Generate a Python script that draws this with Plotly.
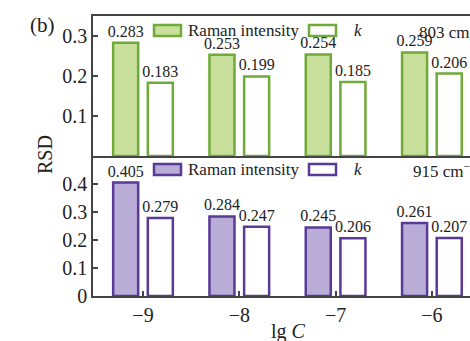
import plotly.graph_objects as go
from plotly.subplots import make_subplots

lg_c = [-9, -8, -7, -6]
raman_803 = [0.283, 0.253, 0.254, 0.259]
k_803 = [0.183, 0.199, 0.185, 0.206]
raman_915 = [0.405, 0.284, 0.245, 0.261]
k_915 = [0.279, 0.247, 0.206, 0.207]

x_ticks = [-9, -8, -7, -6]
x_tick_text = ["\u22129", "\u22128", "\u22127", "\u22126"]
top_ticks = [0.1, 0.2, 0.3]
bot_ticks = [0, 0.1, 0.2, 0.3, 0.4]

GREEN_FILL = "#c9df9c"
GREEN_LINE = "#70aa38"
PURPLE_FILL = "#b9acd6"
PURPLE_LINE = "#5a3a97"
TXT = "#222222"
AX = "#444444"
FONT = "Liberation Serif"

W, H = 470, 341
L, R, T, B = 93, 0, 16, 45

fig = make_subplots(rows=2, cols=1, shared_xaxes=True, vertical_spacing=0)

def fmt(v):
    return f"{v:.3f}"

def add_pair(row, raman, k, fill, line):
    fig.add_trace(go.Bar(x=lg_c, y=raman, offset=-0.31, width=0.26,
                         marker=dict(color=fill, line=dict(color=line, width=2.5)),
                         text=[fmt(v) for v in raman], textposition="outside",
                         constraintext="none",
                         textfont=dict(family=FONT, size=16, color=TXT),
                         cliponaxis=False, showlegend=False), row=row, col=1)
    fig.add_trace(go.Bar(x=lg_c, y=k, offset=0.05, width=0.26,
                         marker=dict(color="white", line=dict(color=line, width=2.5)),
                         text=[fmt(v) for v in k], textposition="outside",
                         constraintext="none",
                         textfont=dict(family=FONT, size=16, color=TXT),
                         cliponaxis=False, showlegend=False), row=row, col=1)

add_pair(1, raman_803, k_803, GREEN_FILL, GREEN_LINE)
add_pair(2, raman_915, k_915, PURPLE_FILL, PURPLE_LINE)

pw = W - L - R
ph = H - T - B

def px(x):
    return (x - L) / pw

def py(y):
    return (H - B - y) / ph

shapes = []
annotations = []

label_x = {"803 cm<sup>\u22121</sup>": 417, "915 cm<sup>\u22121</sup>": 411}

def legend_row(yc, fill, line, label):
    shapes.append(dict(type="rect", xref="paper", yref="paper",
                       x0=px(154), x1=px(181), y0=py(yc + 5.5), y1=py(yc - 5.5),
                       fillcolor=fill, line=dict(color=line, width=2.5)))
    shapes.append(dict(type="rect", xref="paper", yref="paper",
                       x0=px(309), x1=px(336), y0=py(yc + 5.5), y1=py(yc - 5.5),
                       fillcolor="white", line=dict(color=line, width=2.5)))
    annotations.append(dict(text="Raman intensity", xref="paper", yref="paper",
                            x=px(186), y=py(yc), xanchor="left", yanchor="middle",
                            showarrow=False, font=dict(family=FONT, size=17, color=TXT)))
    annotations.append(dict(text="<i>k</i>", xref="paper", yref="paper",
                            x=px(352), y=py(yc), xanchor="left", yanchor="middle",
                            showarrow=False, font=dict(family=FONT, size=17, color=TXT)))
    annotations.append(dict(text=label, xref="paper", yref="paper",
                            x=px(label_x[label]), y=py(yc), xanchor="left", yanchor="middle",
                            showarrow=False, font=dict(family=FONT, size=17, color=TXT)))

legend_row(30.5, GREEN_FILL, GREEN_LINE, "803 cm<sup>\u22121</sup>")
legend_row(169.5, PURPLE_FILL, PURPLE_LINE, "915 cm<sup>\u22121</sup>")

annotations.append(dict(text="(b)", xref="paper", yref="paper", x=px(43), y=py(25),
                        xanchor="center", yanchor="middle", showarrow=False,
                        font=dict(family=FONT, size=21, color=TXT)))
annotations.append(dict(text="RSD", xref="paper", yref="paper", x=px(45), y=py(155),
                        xanchor="center", yanchor="middle", showarrow=False, textangle=-90,
                        font=dict(family=FONT, size=20, color=TXT)))
annotations.append(dict(text="lg <i>C</i>", xref="paper", yref="paper", x=px(288), y=py(331),
                        xanchor="center", yanchor="middle", showarrow=False,
                        font=dict(family=FONT, size=20, color=TXT)))

xr = [-9 - 50 / 96.3, -9 + (W - 143) / 96.3]

common_x = dict(range=xr, showline=True, linecolor=AX, linewidth=1.5, showgrid=False,
                zeroline=False, tickmode="array", tickvals=x_ticks,
                ticklen=5, tickcolor=AX, tickwidth=1.5)
fig.update_xaxes(**common_x, mirror=True, showticklabels=False, ticks="", row=1, col=1)
fig.update_xaxes(**common_x, ticks="inside", ticktext=x_tick_text, row=2, col=1,
                 tickfont=dict(family=FONT, size=20, color=TXT))

common_y = dict(showline=True, linecolor=AX, linewidth=1.5, showgrid=False, zeroline=False,
                ticks="inside", ticklen=5, tickcolor=AX, tickwidth=1.5,
                tickfont=dict(family=FONT, size=20, color=TXT), tickmode="array")
fig.update_yaxes(**common_y, range=[0, 0.35], tickvals=top_ticks,
                 ticktext=[f"{v:g}" for v in top_ticks], row=1, col=1)
fig.update_yaxes(**common_y, range=[0, 0.5], tickvals=bot_ticks,
                 ticktext=[f"{v:g}" for v in bot_ticks], row=2, col=1)

fig.update_layout(width=W, height=H, margin=dict(l=L, r=R, t=T, b=B),
                  plot_bgcolor="white", paper_bgcolor="white",
                  barmode="overlay", shapes=shapes, annotations=annotations,
                  font=dict(family=FONT, color=TXT))

fig.write_html("out.html", config={"displayModeBar": False},
               post_script="document.body.style.margin='0';")
